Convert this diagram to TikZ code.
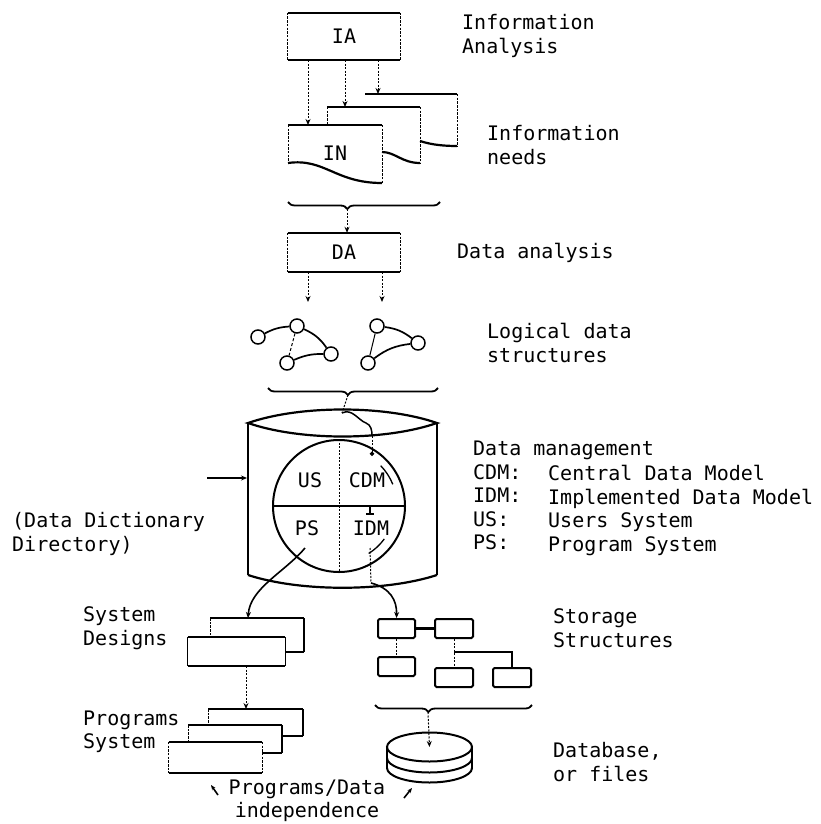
\documentclass[tikz,border=0pt]{standalone}
\usepackage{fontspec}
\setmonofont{DejaVu Sans Mono}
\usetikzlibrary{arrows.meta,decorations.pathreplacing,calc,shapes.geometric}
\begin{document}
\begin{tikzpicture}[x=1pt,y=-1pt,
  font=\ttfamily\fontsize{20}{23.5}\selectfont,
  ln/.style={line width=2.2pt},
  thin side/.style={line width=0.9pt, dash pattern=on 2.5pt off 1.2pt},
  dotl/.style={line width=1pt, dash pattern=on 2pt off 1.5pt},
  tip/.style={-{Stealth[length=6pt,width=5pt]}},
  dottip/.style={-{Circle[length=4.5pt]}},
  lbl/.style={anchor=west, align=left, inner sep=0pt},
  brc/.style={decorate, decoration={brace, amplitude=7pt, aspect=#1}, line width=1.8pt},
  gnode/.style={circle, draw, line width=1.5pt, minimum size=14pt, inner sep=0pt},
  bx/.style={inner sep=0pt},
  sbox/.style={draw, line width=2pt, rounded corners=1.5pt, minimum width=37pt, minimum height=19pt, inner sep=0pt},
]
\useasboundingbox (0,0) rectangle (820,824);

% ---------- IA box ----------
\node[bx, minimum width=112pt, minimum height=47pt] (ia) at (344,36.5) {IA};
\draw[ln] (ia.north west) -- (ia.north east) (ia.south west) -- (ia.south east);
\draw[thin side] (ia.north west) -- (ia.south west) (ia.north east) -- (ia.south east);

% ---------- Information needs documents ----------
% back document
\draw[ln] (365,94) -- (457,94);
\draw[thin side] (457,94) -- (457,146);
\draw[ln] (420,141) .. controls (432,145) and (445,146) .. (457,146);
% middle document
\draw[ln] (327,107) -- (420,107);
\draw[thin side] (327,107) -- (327,125) (420,107) -- (420,163);
\draw[ln] (382,152) .. controls (395,152) and (402,163) .. (420,163);
% front document
\node[bx] (in) at (335,153) {IN};
\draw[ln] (288,125) -- (382,125);
\draw[thin side] (288,125) -- (288,163) (382,125) -- (382,183);
\draw[ln] (288,163) .. controls (325,158) and (335,183) .. (382,183);
\coordinate (in1) at (308,125);
\coordinate (in2) at (345,107);
\coordinate (in3) at (378,94);
\draw[dotl,tip] (ia.south -| in1) -- (in1);
\draw[dotl,tip] (ia.south -| in2) -- (in2);
\draw[dotl,tip] (ia.south -| in3) -- (in3);

% brace 1
\draw[brc=0.61] (440,202) -- (288,202);
\coordinate (b1) at (347,209);

% ---------- DA box ----------
\node[bx, minimum width=112pt, minimum height=39pt] (da) at (344,252.5) {DA};
\draw[ln] (da.north west) -- (da.north east) (da.south west) -- (da.south east);
\draw[thin side] (da.north west) -- (da.south west) (da.north east) -- (da.south east);
\draw[dotl,tip] (b1) -- (da.north -| b1);
\coordinate (l1) at (308,302);
\coordinate (l2) at (382,302);
\draw[dotl,tip] (da.south -| l1) -- (l1);
\draw[dotl,tip] (da.south -| l2) -- (l2);

% ---------- logical data structures ----------
\node[gnode] (ga) at (258,337) {};
\node[gnode] (gb) at (297,326) {};
\node[gnode] (gc) at (331,354) {};
\node[gnode] (gd) at (287,363) {};
\draw[line width=1.7pt] (ga) to[bend left=12] (gb);
\draw[line width=1.7pt] (gb) to[bend left=15] (gc);
\draw[line width=1pt, dash pattern=on 3pt off 2pt] (gb) -- (gd);
\draw[line width=1.7pt] (gd) to[bend left=12] (gc);
\node[gnode] (ha) at (377,326) {};
\node[gnode] (hb) at (418,343) {};
\node[gnode] (hc) at (368,363) {};
\draw[line width=1.7pt] (ha) to[bend left=15] (hb);
\draw[line width=1pt] (ha) -- (hc);
\draw[line width=1.7pt] (hc) to[bend left=15] (hb);

% brace 2
\draw[brc=0.53] (438,388) -- (268,388);
\coordinate (b2) at (348,395);

% ---------- data management cylinder ----------
\draw[ln] (248,423) .. controls (300,405) and (385,405) .. (437,423)
          .. controls (385,441) and (300,441) .. cycle;
\draw[line width=1.2pt] (248,423) -- (248,575) (437,423) -- (437,575);
\draw[ln] (248,575) .. controls (300,592) and (385,592) .. (437,575);
\coordinate (cylL) at (247,478);
\node[circle, draw, line width=2pt, minimum size=132pt, inner sep=0pt] (dm) at (339,506) {};
\draw[ln] (dm.west) -- (dm.east);
\draw[dotl] (dm.north) -- (dm.south);
\draw[dotl] (b2) -- (342,413);
\draw[line width=1.5pt] (342,413) .. controls (352,408) and (358,420) .. (366,423)
      .. controls (371,425) and (372,430) .. (372,436);
\coordinate (cdmdot) at (372,456);
\draw[dotl,dottip] (372,436) -- (cdmdot);

\node[bx] (us) at (310,480) {US};
\node[bx] (cdm) at (367,480) {CDM};
\node[bx] (ps) at (307,528) {PS};
\node[bx] (idm) at (371,528) {IDM};

\draw[line width=1.3pt] ([shift={(22:58pt)}]dm.center) arc[start angle=22, end angle=44, radius=58pt];
\draw[line width=1.3pt] ([shift={(-58:56pt)}]dm.center) arc[start angle=-58, end angle=-36, radius=56pt];
\draw[line width=1.3pt] (370,507) -- (370,514) (366,514) -- (374,514);

% input arrow
\coordinate (ddd) at (207,478);
\draw[line width=2pt,tip] (ddd) -- (cylL);

% ---------- system designs ----------
\draw[ln] (210,618) -- (304,618);
\draw[line width=1.3pt] (304,618) -- (304,652);
\draw[ln] (285,652) -- (304,652);
\draw[thin side] (210,618) -- (210,637);
\node[bx, minimum width=97pt, minimum height=29pt] (sd) at (236.5,651.5) {};
\draw[ln] (sd.north west) -- (sd.north east) (sd.south west) -- (sd.south east);
\draw[line width=1.3pt] (sd.north west) -- (sd.south west) (sd.north east) -- (sd.south east);
\coordinate (sdtop) at (248,618);
\draw[line width=1.6pt,tip] (305,548) .. controls (285,572) and (250,588) .. (sdtop);

% ---------- programs ----------
\draw[ln] (208,709) -- (303,709);
\draw[line width=1.3pt] (303,709) -- (303,736);
\draw[ln] (282,736) -- (303,736);
\draw[thin side] (208,709) -- (208,725);
\draw[ln] (188,725) -- (282,725);
\draw[line width=1.3pt] (282,725) -- (282,753);
\draw[ln] (262,753) -- (282,753);
\draw[thin side] (188,725) -- (188,742);
\node[bx, minimum width=93pt, minimum height=31pt] (pg) at (215.5,757.5) {};
\draw[ln] (pg.north west) -- (pg.north east) (pg.south west) -- (pg.south east);
\draw[thin side] (pg.north west) -- (pg.south west) (pg.north east) -- (pg.south east);
\coordinate (pgtop) at (246,709);
\draw[dotl,tip] (sd.south -| pgtop) -- (pgtop);

% ---------- storage structures ----------
\node[sbox] (sa) at (396.5,628.5) {};
\node[sbox, minimum width=38pt] (sb) at (454,628.5) {};
\node[sbox] (sc) at (396.5,666.5) {};
\node[sbox, minimum width=38pt] (sdd) at (454,677.5) {};
\node[sbox, minimum width=38pt] (se) at (512,677.5) {};
\draw[ln] (sa) -- (sb);
\draw[dotl] (sa) -- (sc);
\draw[dotl] (sb) -- (sdd);
\coordinate (j) at (454,652);
\draw[ln] (j) -| (se.north);
\draw[dotl] (370,548) -- (371,583);
\draw[line width=1.6pt,tip] (371,583) .. controls (390,588) and (397,600) .. (sa.north);

% brace 3
\draw[brc=0.66] (532,705) -- (375,705);
\coordinate (b3) at (428,712);

% ---------- database disk ----------
\draw[line width=2pt] (387,747) -- (387,768) (472,747) -- (472,768);
\draw[line width=2pt] (387,758) arc[start angle=180, end angle=360, x radius=42.5pt, y radius=14.5pt];
\draw[line width=2pt] (387,768) arc[start angle=180, end angle=360, x radius=42.5pt, y radius=14.5pt];
\node[ellipse, draw, line width=2pt, fill=white, minimum width=85pt, minimum height=29pt, inner sep=0pt] (db) at (429.5,747) {};
\draw[dotl,tip] (b3) -- (db.center);

% ---------- labels ----------
\node[lbl] (t1) at (462,36) {Information\\Analysis};
\node[lbl] (t2) at (487,145) {Information\\needs};
\node[lbl] (t3) at (457,253) {Data analysis};
\node[lbl] (t4) at (487,343) {Logical data\\structures};
\node[lbl, anchor=north west] (t5) at (473,441) {Data management\\CDM:\\IDM:\\US:\\PS:};
\node[lbl, anchor=north west] (t6) at (548,465) {Central Data Model\\Implemented Data Model\\Users System\\Program System};
\node[lbl] (t7) at (12,534) {(Data Dictionary\\Directory)};
\node[lbl] (t8) at (83,628) {System\\Designs};
\node[lbl] (t9) at (83,732) {Programs\\System};
\node[lbl] (t10) at (553,628) {Storage\\Structures};
\node[lbl] (t11) at (553,762) {Database,\\or files};
\node[inner sep=0pt, align=center] (t12) at (307,801) {Programs/Data\\independence};
\coordinate (a1) at (218,795);
\coordinate (a2) at (404,798);
\draw[line width=1.6pt,-{Stealth[length=5pt,width=4pt]}] (a1) -- ++(-7,-10);
\draw[line width=1.6pt,-{Stealth[length=5pt,width=4pt]}] (a2) -- ++(8,-10);
\end{tikzpicture}
\end{document}
